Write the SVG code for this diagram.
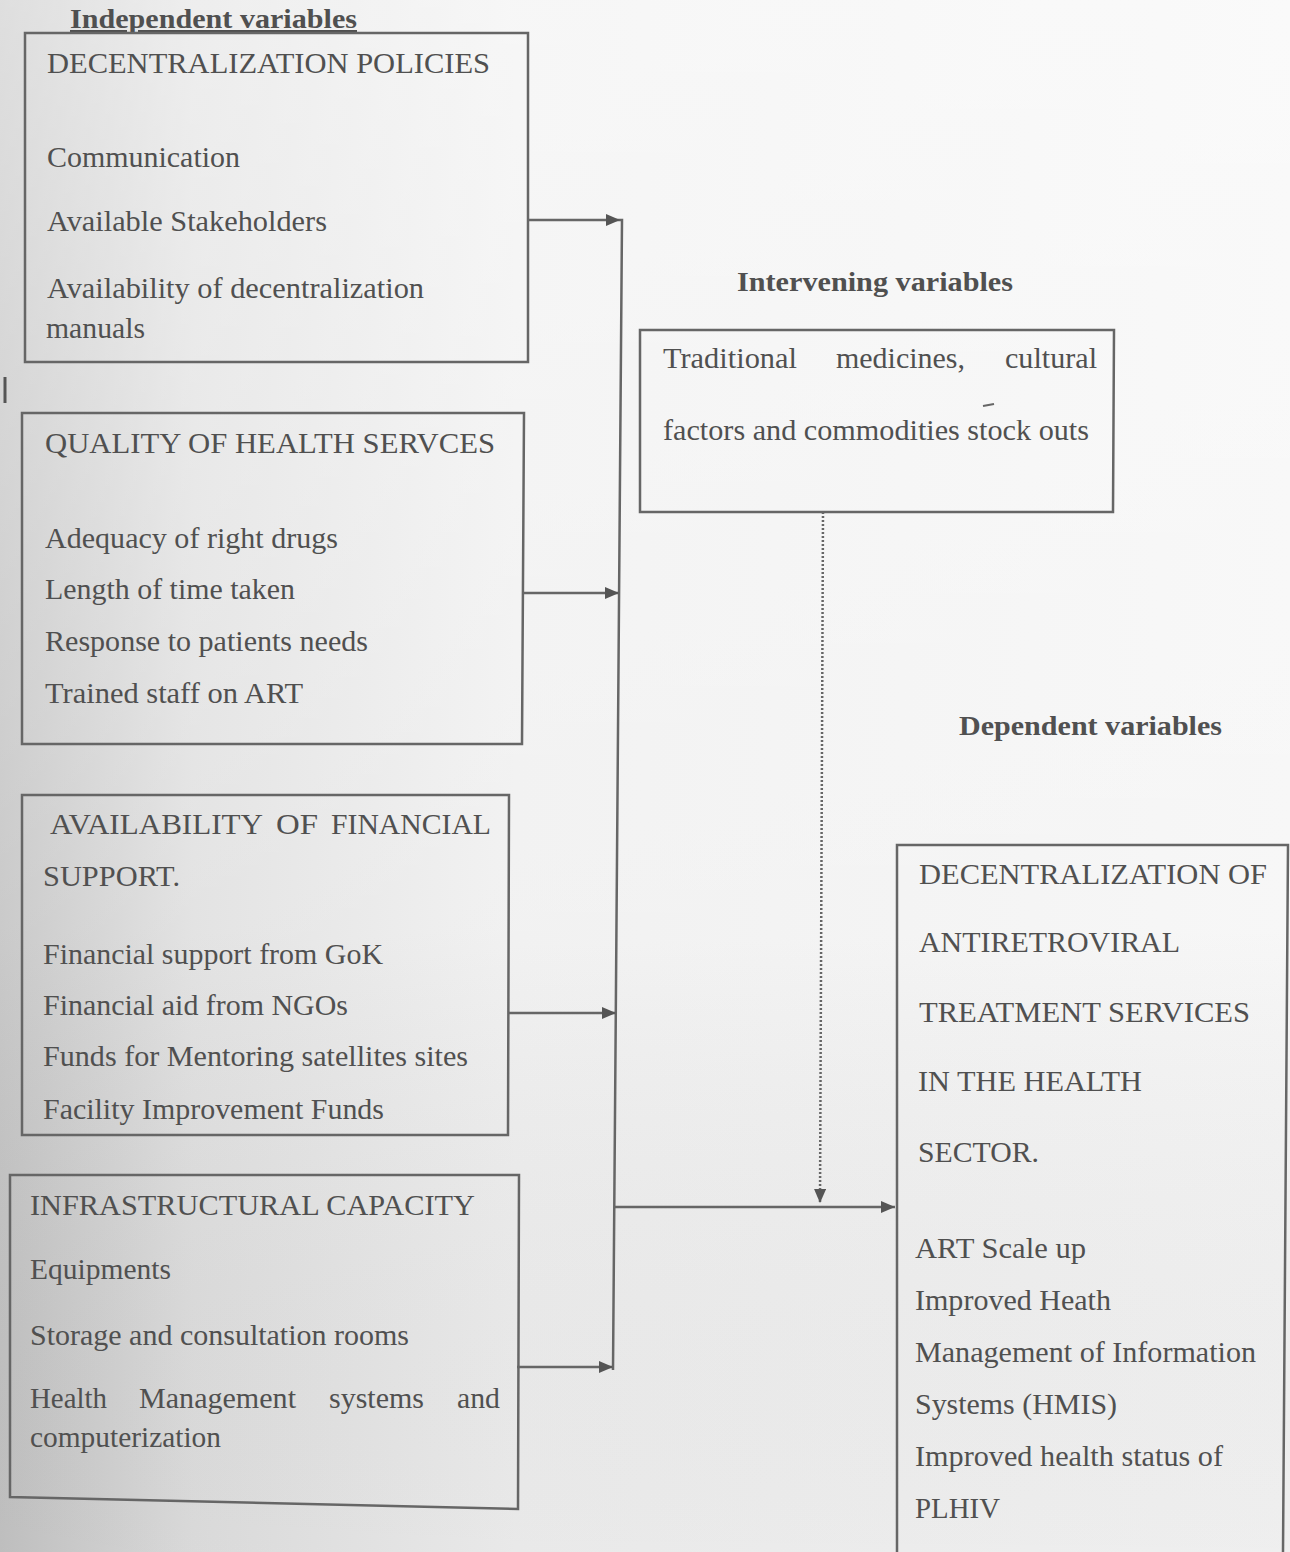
<svg xmlns="http://www.w3.org/2000/svg" width="1290" height="1552" viewBox="0 0 1290 1552">
<defs>
<linearGradient id="bg" x1="0" y1="0" x2="1" y2="0">
<stop offset="0" stop-color="#c4c4c4"/>
<stop offset="0.15" stop-color="#e0e0e0"/>
<stop offset="0.4" stop-color="#f0f0f0"/>
<stop offset="1" stop-color="#f6f6f6"/>
</linearGradient>
<linearGradient id="bg2" x1="0" y1="0" x2="0" y2="1">
<stop offset="0" stop-color="#ffffff" stop-opacity="0.45"/>
<stop offset="0.6" stop-color="#ffffff" stop-opacity="0.1"/>
<stop offset="1" stop-color="#000000" stop-opacity="0.03"/>
</linearGradient>
<marker id="ah" viewBox="0 0 14 12" refX="14" refY="6" markerWidth="14" markerHeight="12" markerUnits="userSpaceOnUse" orient="auto">
<path d="M0,0 L14,6 L0,12 Z" fill="#555"/>
</marker>
</defs>
<style>
.t{font-family:"Liberation Serif","Times New Roman",serif;font-size:29px;fill:#505050}
.h{font-family:"Liberation Serif","Times New Roman",serif;font-size:27px;font-weight:bold;fill:#505050}
.box{fill:none;stroke:#666;stroke-width:2.5}
.ln{fill:none;stroke:#666;stroke-width:2.5}
.dot{fill:none;stroke:#666;stroke-width:2.5;stroke-dasharray:2 2}
</style>
<rect width="1290" height="1552" fill="url(#bg)"/>
<rect width="1290" height="1552" fill="url(#bg2)"/>
<path d="M5,377 L5,403" stroke="#555" stroke-width="3"/>

<g id="heading-independent">
<text class="h" x="70" y="28" textLength="287" lengthAdjust="spacingAndGlyphs" text-decoration="underline">Independent variables</text>
</g>

<g id="box-decentralization-policies">
<path class="box" d="M25,33 L528,33 L528,362 L25,362 Z"/>
<text class="t" x="47" y="73" textLength="443" lengthAdjust="spacingAndGlyphs">DECENTRALIZATION POLICIES</text>
<text class="t" x="47" y="167" textLength="193" lengthAdjust="spacingAndGlyphs">Communication</text>
<text class="t" x="47" y="231" textLength="280" lengthAdjust="spacingAndGlyphs">Available Stakeholders</text>
<text class="t" x="47" y="298" textLength="377" lengthAdjust="spacingAndGlyphs">Availability of decentralization</text>
<text class="t" x="46" y="338" textLength="99" lengthAdjust="spacingAndGlyphs">manuals</text>
</g>

<g id="box-quality">
<path class="box" d="M22,413 L524,413 L522,744 L22,744 Z"/>
<text class="t" x="45" y="453" textLength="450" lengthAdjust="spacingAndGlyphs">QUALITY OF HEALTH SERVCES</text>
<text class="t" x="45" y="548" textLength="293" lengthAdjust="spacingAndGlyphs">Adequacy of right drugs</text>
<text class="t" x="45" y="599" textLength="250" lengthAdjust="spacingAndGlyphs">Length of time taken</text>
<text class="t" x="45" y="651" textLength="323" lengthAdjust="spacingAndGlyphs">Response to patients needs</text>
<text class="t" x="45" y="703" textLength="258" lengthAdjust="spacingAndGlyphs">Trained staff on ART</text>
</g>

<g id="box-financial">
<path class="box" d="M22,795 L509,795 L508,1135 L22,1135 Z"/>
<text class="t" x="50" y="834" textLength="213" lengthAdjust="spacingAndGlyphs">AVAILABILITY</text>
<text class="t" x="276" y="834" textLength="42" lengthAdjust="spacingAndGlyphs">OF</text>
<text class="t" x="331" y="834" textLength="160" lengthAdjust="spacingAndGlyphs">FINANCIAL</text>
<text class="t" x="43" y="886" textLength="137" lengthAdjust="spacingAndGlyphs">SUPPORT.</text>
<text class="t" x="43" y="964" textLength="340" lengthAdjust="spacingAndGlyphs">Financial support from GoK</text>
<text class="t" x="43" y="1015" textLength="305" lengthAdjust="spacingAndGlyphs">Financial aid from NGOs</text>
<text class="t" x="43" y="1066" textLength="425" lengthAdjust="spacingAndGlyphs">Funds for Mentoring satellites sites</text>
<text class="t" x="43" y="1119" textLength="341" lengthAdjust="spacingAndGlyphs">Facility Improvement Funds</text>
</g>

<g id="box-infrastructure">
<path class="box" d="M10,1175 L519,1175 L518,1509 L10,1497 Z"/>
<text class="t" x="30" y="1215" textLength="445" lengthAdjust="spacingAndGlyphs">INFRASTRUCTURAL CAPACITY</text>
<text class="t" x="30" y="1279" textLength="141" lengthAdjust="spacingAndGlyphs">Equipments</text>
<text class="t" x="30" y="1345" textLength="379" lengthAdjust="spacingAndGlyphs">Storage and consultation rooms</text>
<text class="t" x="30" y="1408" textLength="77" lengthAdjust="spacingAndGlyphs">Health</text>
<text class="t" x="139" y="1408" textLength="157" lengthAdjust="spacingAndGlyphs">Management</text>
<text class="t" x="329" y="1408" textLength="95" lengthAdjust="spacingAndGlyphs">systems</text>
<text class="t" x="457" y="1408" textLength="43" lengthAdjust="spacingAndGlyphs">and</text>
<text class="t" x="30" y="1447" textLength="191" lengthAdjust="spacingAndGlyphs">computerization</text>
</g>

<g id="heading-intervening">
<text class="h" x="737" y="291" textLength="276" lengthAdjust="spacingAndGlyphs">Intervening variables</text>
</g>

<g id="box-intervening">
<path class="box" d="M640,330 L1114,330 L1113,512 L640,512 Z"/>
<text class="t" x="663" y="368" textLength="134" lengthAdjust="spacingAndGlyphs">Traditional</text>
<text class="t" x="836" y="368" textLength="129" lengthAdjust="spacingAndGlyphs">medicines,</text>
<text class="t" x="1005" y="368" textLength="92" lengthAdjust="spacingAndGlyphs">cultural</text>
<text class="t" x="663" y="440" textLength="426" lengthAdjust="spacingAndGlyphs">factors and commodities stock outs</text>
<path d="M983,406 L994,404" stroke="#666" stroke-width="2"/>
</g>

<g id="heading-dependent">
<text class="h" x="959" y="735" textLength="263" lengthAdjust="spacingAndGlyphs">Dependent variables</text>
</g>

<g id="box-dependent">
<path class="box" d="M897,1552 L897,845 L1288,845 L1283,1552"/>
<text class="t" x="919" y="884" textLength="348" lengthAdjust="spacingAndGlyphs">DECENTRALIZATION OF</text>
<text class="t" x="919" y="952" textLength="261" lengthAdjust="spacingAndGlyphs">ANTIRETROVIRAL</text>
<text class="t" x="919" y="1022" textLength="331" lengthAdjust="spacingAndGlyphs">TREATMENT SERVICES</text>
<text class="t" x="918" y="1091" textLength="224" lengthAdjust="spacingAndGlyphs">IN THE HEALTH</text>
<text class="t" x="918" y="1162" textLength="121" lengthAdjust="spacingAndGlyphs">SECTOR.</text>
<text class="t" x="915" y="1258" textLength="171" lengthAdjust="spacingAndGlyphs">ART Scale up</text>
<text class="t" x="915" y="1310" textLength="196" lengthAdjust="spacingAndGlyphs">Improved Heath</text>
<text class="t" x="915" y="1362" textLength="341" lengthAdjust="spacingAndGlyphs">Management of Information</text>
<text class="t" x="915" y="1414" textLength="202" lengthAdjust="spacingAndGlyphs">Systems (HMIS)</text>
<text class="t" x="915" y="1466" textLength="308" lengthAdjust="spacingAndGlyphs">Improved health status of</text>
<text class="t" x="915" y="1518" textLength="85" lengthAdjust="spacingAndGlyphs">PLHIV</text>
</g>

<g id="connectors">
<path class="ln" d="M528,220 L620,220" marker-end="url(#ah)"/>
<path class="ln" d="M620,220 L622,220 L613,1370"/>
<path class="ln" d="M522,593 L619,593" marker-end="url(#ah)"/>
<path class="ln" d="M508,1013 L616,1013" marker-end="url(#ah)"/>
<path class="ln" d="M517,1367 L613,1367" marker-end="url(#ah)"/>
<path class="ln" d="M614,1207 L895,1207" marker-end="url(#ah)"/>
<path class="dot" d="M823,512 L820,1203" marker-end="url(#ah)"/>
</g>
</svg>
